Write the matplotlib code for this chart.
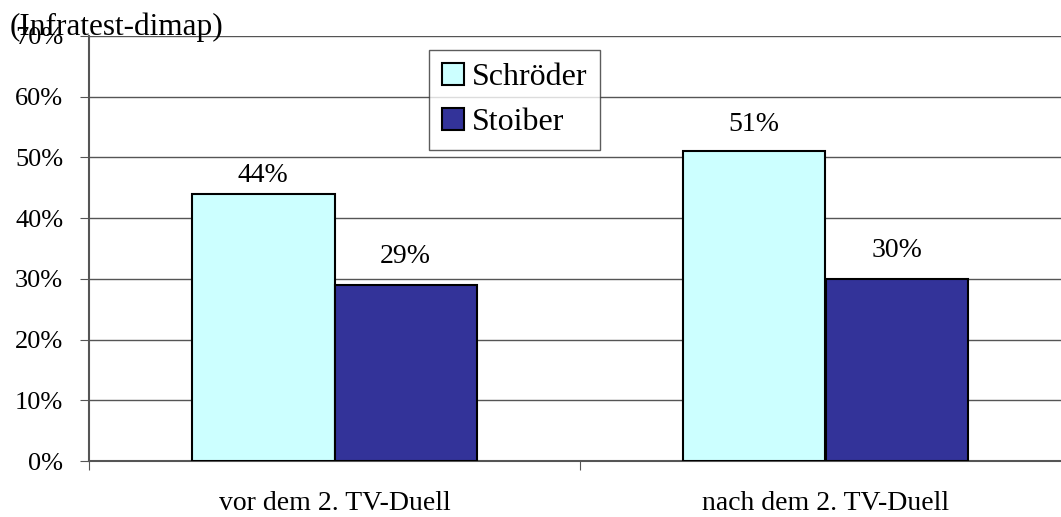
import matplotlib.pyplot as plt
from matplotlib.ticker import FixedLocator

plt.rcParams['font.family'] = ['Liberation Serif', 'DejaVu Serif']

categories = ['vor dem 2. TV-Duell', 'nach dem 2. TV-Duell']
schroeder = [44, 51]
stoiber = [29, 30]
y_ticks = [0, 10, 20, 30, 40, 50, 60, 70]

fig = plt.figure(figsize=(10.61, 5.17), dpi=100)
ax = fig.add_axes([89 / 1061, 56 / 517, 982 / 1061, 425 / 517])

x = range(len(categories))
w = 0.29
b1 = ax.bar([i - w / 2 for i in x], schroeder, w, color='#CCFFFF',
            edgecolor='black', linewidth=1.5, label='Schröder', zorder=3)
b2 = ax.bar([i + w / 2 for i in x], stoiber, w, color='#333399',
            edgecolor='black', linewidth=1.5, label='Stoiber', zorder=3)

# Prozentwerte über den Balken (Abstand in Punkten wie im Original)
gaps = {b1: [8.6, 15], b2: [15.5, 15.5]}
for bars, vals in ((b1, schroeder), (b2, stoiber)):
    for bar, v, g in zip(bars, vals, gaps[bars]):
        ax.annotate(f'{v}%', (bar.get_x() + bar.get_width() / 2, v),
                    xytext=(0, g), textcoords='offset points',
                    ha='center', va='baseline', fontsize=20)

ax.set_xlim(-0.5, 1.5)
ax.set_ylim(0, 70)
ax.set_yticks(y_ticks)
ax.set_yticklabels([f'{t}%' for t in y_ticks], fontsize=19)
ax.yaxis.grid(True, color='#555555', linewidth=1, zorder=0)

ax.xaxis.set_major_locator(FixedLocator([-0.5, 0.5, 1.5]))
ax.xaxis.set_major_formatter(plt.NullFormatter())
ax.xaxis.set_minor_locator(FixedLocator(list(x)))
ax.set_xticklabels(categories, minor=True, fontsize=20)
ax.tick_params(axis='x', which='minor', length=0, pad=21.5)
ax.tick_params(axis='x', which='major', length=6.5, color='#555555')
ax.tick_params(axis='y', length=6.5, color='#555555', pad=12)

for s in ('top', 'right'):
    ax.spines[s].set_visible(False)
for s in ('left', 'bottom'):
    ax.spines[s].set_color('#555555')
    ax.spines[s].set_linewidth(1.5)

leg = ax.legend(loc='upper left', bbox_to_anchor=(340 / 982, 411 / 425),
                fontsize=23, frameon=True, fancybox=False, edgecolor='#333333',
                handlelength=0.7, handleheight=0.7, handletextpad=0.25,
                labelspacing=0.5, borderpad=0.4, borderaxespad=0)
leg.get_frame().set_linewidth(1)

fig.text(10 / 1061, 1 - 35 / 517, '(Infratest-dimap)', fontsize=22.5,
         ha='left', va='baseline')

fig.savefig('out.png', dpi=100)
